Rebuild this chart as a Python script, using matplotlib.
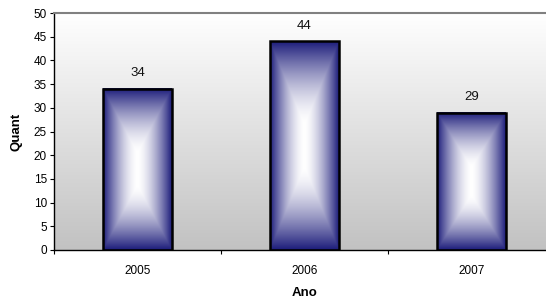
import numpy as np
import matplotlib
matplotlib.use("Agg")
import matplotlib.pyplot as plt

categories = ["2005", "2006", "2007"]
values = [34, 44, 29]
yticks = [0, 5, 10, 15, 20, 25, 30, 35, 40, 45, 50]

plt.rcParams['font.family'] = ['Liberation Sans', 'DejaVu Sans']

fig = plt.figure(figsize=(5.46, 2.99), dpi=100)
ax = fig.add_axes([54/546, 1-250/299, 501/546, 237/299])

x = np.arange(len(categories))
ax.set_xlim(-0.5, len(categories) - 0.5)
ax.set_ylim(0, 50)

# background gradient (white at top, gray at bottom)
bg = np.linspace(0, 1, 256).reshape(-1, 1)
top = np.array([1.0, 1.0, 1.0])
bot = np.array([0.76, 0.76, 0.76])
bgimg = top[None, None, :] * (1 - bg[:, :, None]) + bot[None, None, :] * bg[:, :, None]
ax.imshow(bgimg, extent=(0, 1, 0, 1), origin='upper', transform=ax.transAxes,
          aspect='auto', zorder=0)

width = 0.41
navy = np.array([0.11, 0.11, 0.48])
white = np.array([1.0, 1.0, 1.0])
n = 300
c = 0.2
gx = np.abs(np.linspace(-1, 1, n))[None, :]
gy = np.abs(np.linspace(-1, 1, n))[:, None]
gy = np.clip((gy - c) / (1 - c), 0, 1)
t = np.maximum(gx, gy)
t = t ** 1.6
grad = white[None, None, :] * (1 - t[:, :, None]) + navy[None, None, :] * t[:, :, None]

bars = ax.bar(x, values, width=width, facecolor='none', edgecolor='black', linewidth=1.8, zorder=3)
for xi, v in zip(x, values):
    ax.imshow(grad, extent=(xi - width/2, xi + width/2, 0, v), aspect='auto', zorder=2)
    ax.annotate(str(v), (xi, v), xytext=(0, 7), textcoords='offset points',
                ha='center', va='bottom', fontsize=9.5, color='#111111', zorder=4)

ax.set_xlim(-0.5, len(categories) - 0.5)
ax.set_ylim(0, 50)

ax.set_yticks(yticks)
ax.set_yticklabels([str(v) for v in yticks], fontsize=8.5)
ax.set_xticks(np.arange(-0.5, len(categories), 1.0))
ax.set_xticklabels([])
ax.set_xticks(x, minor=True)
ax.set_xticklabels(categories, minor=True, fontsize=8.5)
ax.tick_params(axis='x', which='minor', length=0, pad=11)
ax.tick_params(axis='x', which='major', length=3, width=0.8, direction='out')
ax.tick_params(axis='y', length=3, width=0.8, direction='out', pad=2)

for s in ['left', 'bottom']:
    ax.spines[s].set_color('black')
    ax.spines[s].set_linewidth(1.0)
ax.spines['top'].set_color('#808080')
ax.spines['top'].set_linewidth(1.5)
ax.spines['right'].set_visible(False)

ax.set_xlabel('Ano', fontsize=9.5, fontweight='bold', labelpad=7)
ax.set_ylabel('Quant', fontsize=9.5, fontweight='bold', labelpad=8)

fig.savefig('out.png', dpi=100)
